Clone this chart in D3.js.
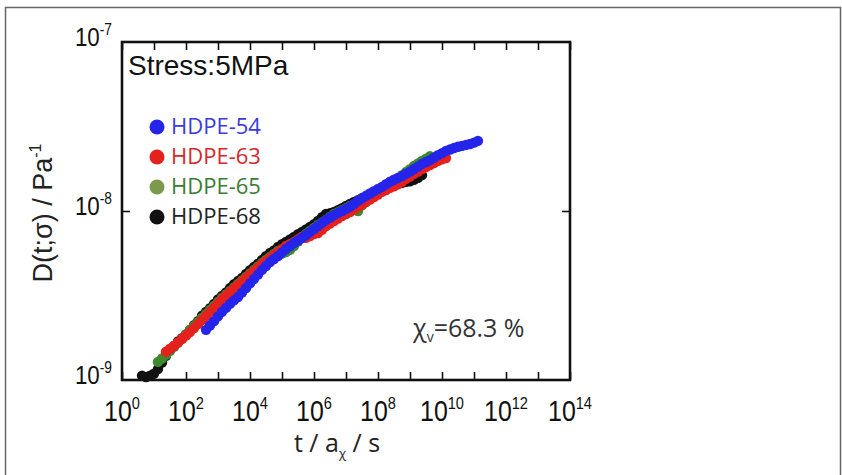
<!DOCTYPE html>
<html><head><meta charset="utf-8">
<script src="https://cdn.jsdelivr.net/npm/d3@7/dist/d3.min.js"></script>
<style>body{margin:0;background:#fff}svg{display:block}</style>
</head><body><svg id="c" width="842" height="475"></svg>
<script>
// ---- data (t / a_chi in s, D in 1/Pa) ----
const time = [4.22,5.62,7.50,10,13.3,17.8,23.7,31.6,42.2,56.2,75.0,100,133,178,237,316,422,562,750,
  1e3,1.33e3,1.78e3,2.37e3,3.16e3,4.22e3,5.62e3,7.50e3,
  1e4,1.33e4,1.78e4,2.37e4,3.16e4,4.22e4,5.62e4,7.50e4,
  1e5,1.33e5,1.78e5,2.37e5,3.16e5,4.22e5,5.62e5,7.50e5,
  1e6,1.33e6,1.78e6,2.37e6,3.16e6,4.22e6,5.62e6,7.50e6,
  1e7,1.33e7,1.78e7,2.37e7,3.16e7,4.22e7,5.62e7,7.50e7,
  1e8,1.33e8,1.78e8,2.37e8,3.16e8,4.22e8,5.62e8,7.50e8,
  1e9,1.33e9,1.78e9,2.37e9,3.16e9,4.22e9,5.62e9,7.50e9,
  1e10,1.33e10,1.78e10,2.37e10,3.16e10,4.22e10,5.62e10,7.50e10,
  1e11,1.33e11];
// each series starts at time[start]
const hdpe68Start = 0;
const hdpe68 = [1.06e-9,1.04e-9,1.06e-9,1.09e-9,1.16e-9,1.27e-9,1.39e-9,1.50e-9,1.59e-9,1.69e-9,
  1.77e-9,1.86e-9,1.98e-9,2.11e-9,2.23e-9,2.40e-9,2.53e-9,2.66e-9,2.82e-9,3.00e-9,
  3.14e-9,3.30e-9,3.50e-9,3.69e-9,3.85e-9,4.02e-9,4.24e-9,4.46e-9,4.66e-9,4.88e-9,
  5.13e-9,5.40e-9,5.64e-9,5.85e-9,6.12e-9,6.36e-9,6.56e-9,6.78e-9,7.02e-9,7.28e-9,
  7.51e-9,7.78e-9,8.04e-9,8.36e-9,8.73e-9,9.20e-9,9.60e-9,9.70e-9,9.86e-9,1.01e-8,
  1.04e-8,1.07e-8,1.10e-8,1.13e-8,1.16e-8,1.19e-8,1.21e-8,1.24e-8,1.28e-8,1.31e-8,
  1.33e-8,1.36e-8,1.39e-8,1.42e-8,1.46e-8,1.47e-8,1.49e-8,1.50e-8,1.53e-8,1.57e-8,1.63e-8];
const hdpe65Start = 4;
const hdpe65 = [1.28e-9,1.34e-9,1.41e-9,1.49e-9,1.57e-9,1.66e-9,1.75e-9,1.86e-9,1.98e-9,2.09e-9,
  2.20e-9,2.33e-9,2.46e-9,2.60e-9,2.74e-9,2.90e-9,3.06e-9,3.21e-9,3.36e-9,3.53e-9,
  3.70e-9,3.88e-9,4.07e-9,4.27e-9,4.48e-9,4.70e-9,4.92e-9,5.13e-9,5.34e-9,5.57e-9,
  5.80e-9,5.60e-9,5.72e-9,5.90e-9,6.21e-9,6.60e-9,7.02e-9,7.32e-9,7.62e-9,7.94e-9,
  8.26e-9,8.55e-9,8.85e-9,9.22e-9,9.60e-9,9.85e-9,1.01e-8,1.04e-8,1.07e-8,1.02e-8,
  1.00e-8,1.08e-8,1.16e-8,1.21e-8,1.26e-8,1.30e-8,1.35e-8,1.40e-8,1.44e-8,1.50e-8,
  1.57e-8,1.63e-8,1.70e-8,1.77e-8,1.85e-8,1.91e-8,1.98e-8,2.04e-8,2.11e-8];
const hdpe63Start = 6;
const hdpe63 = [1.47e-9,1.53e-9,1.59e-9,1.67e-9,1.75e-9,1.83e-9,1.92e-9,2.03e-9,2.14e-9,2.26e-9,
  2.39e-9,2.53e-9,2.67e-9,2.84e-9,3.01e-9,3.16e-9,3.32e-9,3.48e-9,3.65e-9,3.83e-9,
  4.01e-9,4.21e-9,4.42e-9,4.64e-9,4.86e-9,5.06e-9,5.27e-9,5.49e-9,5.72e-9,5.96e-9,
  6.21e-9,6.38e-9,6.56e-9,6.80e-9,7.02e-9,6.95e-9,7.11e-9,7.30e-9,7.41e-9,7.75e-9,
  8.15e-9,8.44e-9,8.73e-9,9.03e-9,9.34e-9,9.60e-9,9.86e-9,1.02e-8,1.06e-8,1.09e-8,
  1.13e-8,1.17e-8,1.21e-8,1.25e-8,1.30e-8,1.33e-8,1.37e-8,1.40e-8,1.44e-8,1.49e-8,
  1.55e-8,1.60e-8,1.66e-8,1.71e-8,1.77e-8,1.82e-8,1.87e-8,1.92e-8,1.98e-8,2.02e-8,2.06e-8];
const hdpe54Start = 16;
const hdpe54 = [1.98e-9,2.10e-9,2.23e-9,2.38e-9,2.53e-9,2.67e-9,2.82e-9,2.96e-9,3.10e-9,3.29e-9,
  3.50e-9,3.73e-9,3.96e-9,4.21e-9,4.48e-9,4.73e-9,4.99e-9,5.20e-9,5.42e-9,5.69e-9,
  5.96e-9,6.21e-9,6.47e-9,6.69e-9,6.92e-9,7.21e-9,7.51e-9,7.82e-9,8.15e-9,8.50e-9,
  8.85e-9,9.15e-9,9.47e-9,9.74e-9,1.00e-8,1.03e-8,1.06e-8,1.10e-8,1.15e-8,1.19e-8,
  1.23e-8,1.27e-8,1.31e-8,1.35e-8,1.39e-8,1.44e-8,1.49e-8,1.53e-8,1.57e-8,1.61e-8,
  1.66e-8,1.71e-8,1.77e-8,1.83e-8,1.90e-8,1.95e-8,2.00e-8,2.07e-8,2.14e-8,2.20e-8,
  2.27e-8,2.31e-8,2.36e-8,2.40e-8,2.43e-8,2.46e-8,2.49e-8,2.54e-8,2.60e-8];
const seriesNames = ["HDPE-54","HDPE-63","HDPE-65","HDPE-68"];
const xTicks = [1e0,1e1,1e2,1e3,1e4,1e5,1e6,1e7,1e8,1e9,1e10,1e11,1e12,1e13,1e14];
const xLabelTicks = [1e0,1e2,1e4,1e6,1e8,1e10,1e12,1e14];
const xLabelExps = ["0","2","4","6","8","10","12","14"];
const yTicks = [1e-9,1e-8,1e-7];
const yLabelExps = ["-9","-8","-7"];

// ---- chart ----
const svg = d3.select("#c");
const L=122,R=570,T=42,B=380;
const x = d3.scaleLog().domain([1,1e14]).range([L,R]);
const y = d3.scaleLog().domain([1e-9,1e-7]).range([B,T]);

// outer frame
svg.append("rect").attr("x",5.5).attr("y",7.5).attr("width",835).attr("height",480)
  .attr("fill","none").attr("stroke","#666").attr("stroke-width",1.5);

const series = [
  {name:"HDPE-68", vals:hdpe68, start:hdpe68Start, color:"#111111", legend:"#111111", text:"#222222"},
  {name:"HDPE-65", vals:hdpe65, start:hdpe65Start, color:"#3d8a2e", legend:"#7c9a4c", text:"#3b7c33"},
  {name:"HDPE-63", vals:hdpe63, start:hdpe63Start, color:"#e5211d", legend:"#e5211d", text:"#d8262a"},
  {name:"HDPE-54", vals:hdpe54, start:hdpe54Start, color:"#2424ea", legend:"#2424ea", text:"#3a3ae0"}
];
series.forEach(s=>{
  const pts = s.vals.map((d,i)=>({t:time[s.start+i], d}));
  svg.append("g").selectAll("circle").data(pts).join("circle")
    .attr("cx",p=>x(p.t)).attr("cy",p=>y(p.d)).attr("r",5.2).attr("fill",s.color);
});

// axes (ticks inward)
const ax = svg.append("g");
ax.append("g").attr("transform",`translate(0,${B})`)
  .call(d3.axisBottom(x).tickValues(xTicks).tickSize(-8).tickFormat(()=>""));
ax.append("g").attr("transform",`translate(0,${T})`)
  .call(d3.axisTop(x).tickValues(xTicks).tickSize(-8).tickFormat(()=>""));
ax.append("g").attr("transform",`translate(${L},0)`)
  .call(d3.axisLeft(y).tickValues([1e-8]).tickSize(-8).tickFormat(()=>""));
ax.append("g").attr("transform",`translate(${R},0)`)
  .call(d3.axisRight(y).tickValues([1e-8]).tickSize(-8).tickFormat(()=>""));
ax.selectAll(".domain").remove();
ax.selectAll(".tick line").attr("stroke","#111").attr("stroke-width",1.6);
svg.append("rect").attr("x",L).attr("y",T).attr("width",R-L).attr("height",B-T)
  .attr("fill","none").attr("stroke","#111").attr("stroke-width",2.6);

// x tick labels
xLabelTicks.forEach((v,i)=>{
  const t = svg.append("text").attr("text-anchor","middle")
    .attr("transform",`translate(${x(v)},421) scale(0.86,1)`)
    .attr("font-family","Liberation Sans, Arial, sans-serif").attr("font-size",29).attr("fill","#111");
  t.append("tspan").text("10");
  t.append("tspan").attr("dy",-12).attr("font-size",17).text(xLabelExps[i]);
});
// y tick labels
yTicks.forEach((v,i)=>{
  const t = svg.append("text").attr("text-anchor","end")
    .attr("transform",`translate(112,${y(v)+4}) scale(0.86,1)`)
    .attr("font-family","Liberation Sans, Arial, sans-serif").attr("font-size",26).attr("fill","#111");
  t.append("tspan").text("10");
  t.append("tspan").attr("dy",-11).attr("font-size",16).text(yLabelExps[i]);
});

// x title
const xt = svg.append("text").attr("x",337).attr("y",452).attr("text-anchor","middle")
  .attr("font-family","Open Sans, sans-serif").attr("font-size",25).attr("fill","#222");
xt.append("tspan").text("t / a");
xt.append("tspan").attr("dy",6).attr("font-size",13).text("χ");
xt.append("tspan").attr("dy",-6).text(" / s");

// y title
const yt = svg.append("text").attr("transform","translate(52,213) rotate(-90)").attr("text-anchor","middle")
  .attr("font-family","Liberation Sans, Arial, sans-serif").attr("font-size",27).attr("fill","#222");
yt.append("tspan").text("D(t;σ) / Pa");
yt.append("tspan").attr("dy",-11).attr("font-size",16).text("-1");

// annotations
svg.append("text").attr("x",128).attr("y",75).attr("font-family","Liberation Sans, Arial, sans-serif")
  .attr("font-size",28).attr("fill","#111").text("Stress:5MPa");
const ann = svg.append("text").attr("x",413).attr("y",337).attr("font-family","Open Sans, sans-serif")
  .attr("font-size",25).attr("fill","#333");
ann.append("tspan").text("χ");
ann.append("tspan").attr("dy",5).attr("font-size",14).text("v");
ann.append("tspan").attr("dy",-5).text("=68.3 %");

// legend
seriesNames.forEach((n,i)=>{
  const s = series.find(d=>d.name===n);
  const cy = 127 + i*30;
  svg.append("circle").attr("cx",157).attr("cy",cy).attr("r",7.5).attr("fill",s.legend);
  svg.append("text").attr("x",171).attr("y",cy+7).attr("font-family","Open Sans, sans-serif")
    .attr("font-size",22).attr("fill",s.text).text(n);
});
</script></body></html>
